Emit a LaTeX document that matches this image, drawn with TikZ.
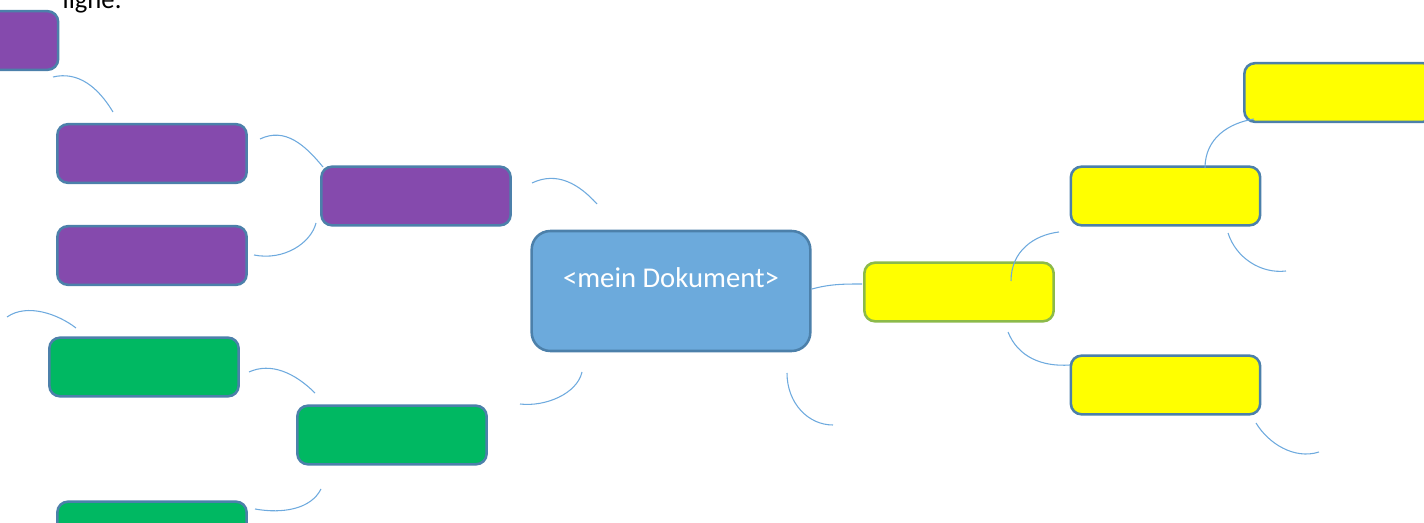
\documentclass[tikz,border=0pt]{standalone}
\usepackage{fontspec}
\setmainfont{Carlito}
\definecolor{boxline}{RGB}{76,128,170}
\definecolor{purplefill}{RGB}{133,74,173}
\definecolor{greenfill}{RGB}{0,184,98}
\definecolor{yellowfill}{RGB}{255,255,0}
\definecolor{docfill}{RGB}{108,170,220}
\definecolor{limeline}{RGB}{140,186,74}
\definecolor{arcline}{RGB}{110,170,222}
\tikzset{
  topic/.style={rectangle, rounded corners=8pt, draw=boxline, line width=1.9pt,
    minimum width=142pt, minimum height=44pt, inner sep=0pt},
  arc/.style={draw=arcline, line width=0.8pt},
}
\begin{document}
\begin{tikzpicture}[x=0.75pt, y=-0.75pt]
\useasboundingbox (0,0) rectangle (1424,523);
\node[anchor=base west, font=\fontsize{20pt}{24pt}\selectfont] (tid0) at (58,9) {ligne.};
% centre
\node[rectangle, rounded corners=14pt, draw=boxline, line width=1.9pt, fill=docfill,
  minimum width=209pt, minimum height=90pt] (mid0) at (671,291) {};
\node[anchor=base, text=white, font=\fontsize{21.5pt}{25pt}\selectfont] (mid1) at (671,288) {<mein Dokument>};
% purple branch
\node[topic, fill=purplefill] (pid0) at (-36.5,40.5){};
\node[topic, fill=purplefill] (pid1) at (152,153.5){};
\node[topic, fill=purplefill] (pid2) at (152,255.5){};
\node[topic, fill=purplefill] (pid3) at (416,196){};
% green branch
\node[topic, fill=greenfill] (gid0) at (144,367){};
\node[topic, fill=greenfill] (gid1) at (392,435){};
\node[topic, fill=greenfill] (gid2) at (152,531){};
% yellow branch
\node[topic, fill=yellowfill, draw=limeline] (yid0) at (959,292){};
\node[topic, fill=yellowfill] (yid1) at (1165.5,196){};
\node[topic, fill=yellowfill] (yid2) at (1165.5,385){};
\node[topic, fill=yellowfill] (yid3) at (1339,92.5){};
% arc ends
\coordinate (aid0) at (53,77);    \coordinate (bid0) at (113,112);
\coordinate (aid1) at (260,139);  \coordinate (bid1) at (323,167);
\coordinate (aid2) at (254,255);  \coordinate (bid2) at (316,223);
\coordinate (aid3) at (532,183);  \coordinate (bid3) at (597,204);
\coordinate (aid4) at (582,372);  \coordinate (bid4) at (520,404);
\coordinate (aid5) at (787,373);  \coordinate (bid5) at (833,425);
\coordinate (aid6) at (812,289);  \coordinate (bid6) at (862,284);
\coordinate (aid7) at (1011,281); \coordinate (bid7) at (1059,232);
\coordinate (aid8) at (1008,332); \coordinate (bid8) at (1070,365);
\coordinate (aid9) at (1205,168); \coordinate (bid9) at (1254,119);
\coordinate (aid10) at (1228,233); \coordinate (bid10) at (1286,271);
\coordinate (aid11) at (1256,423); \coordinate (bid11) at (1319,452);
\coordinate (aid12) at (7,317);    \coordinate (bid12) at (76,328);
\coordinate (aid13) at (249,372);  \coordinate (bid13) at (315,393);
\coordinate (aid14) at (321,489);  \coordinate (bid14) at (255,509);
\draw[arc] (aid0) .. controls +(25,-6) and +(-15,-25) .. (bid0);
\draw[arc] (aid1) .. controls +(25,-12) and +(-18,-22) .. (bid1);
\draw[arc] (aid2) .. controls +(30,6) and +(-5,20) .. (bid2);
\draw[arc] (aid3) .. controls +(25,-12) and +(-18,-20) .. (bid3);
\draw[arc] (aid4) .. controls +(-5,22) and +(25,3) .. (bid4);
\draw[arc] (aid5) .. controls +(0,30) and +(-25,0) .. (bid5);
\draw[arc] (aid6) .. controls +(18,-5) and +(-18,0) .. (bid6);
\draw[arc] (aid7) .. controls +(0,-30) and +(-25,3) .. (bid7);
\draw[arc] (aid8) .. controls +(10,25) and +(-28,2) .. (bid8);
\draw[arc] (aid9) .. controls +(0,-30) and +(-25,4) .. (bid9);
\draw[arc] (aid10) .. controls +(8,25) and +(-25,3) .. (bid10);
\draw[arc] (aid11) .. controls +(12,20) and +(-25,8) .. (bid11);
\draw[arc] (aid12) .. controls +(20,-14) and +(-18,-14) .. (bid12);
\draw[arc] (aid13) .. controls +(22,-10) and +(-20,-20) .. (bid13);
\draw[arc] (aid14) .. controls +(-10,20) and +(28,5) .. (bid14);
\end{tikzpicture}
\end{document}
